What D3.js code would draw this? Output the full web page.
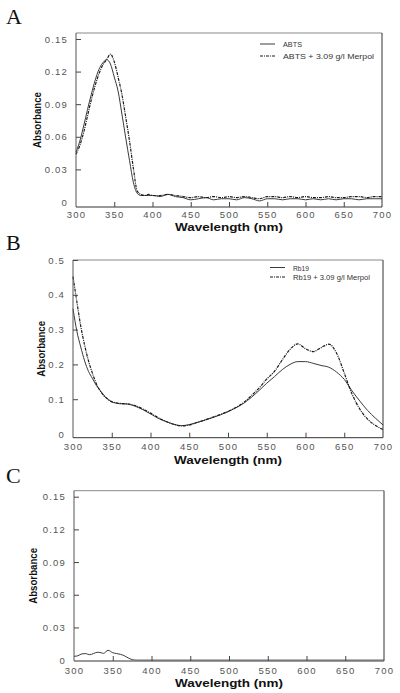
<!DOCTYPE html>
<html>
<head>
<meta charset="utf-8">
<script src="https://cdn.jsdelivr.net/npm/d3@7"></script>
<style>
  html, body { margin: 0; padding: 0; background: #fff; }
  svg { display: block; }
  .tick-label { font-family: "Liberation Sans", Arial, sans-serif; font-size: 9.5px; fill: #555; letter-spacing: 1.2px; }
  .axis-title { font-family: "Liberation Sans", Arial, sans-serif; font-weight: bold; fill: #111; }
  .legend-text { font-family: "Liberation Sans", Arial, sans-serif; fill: #333; }
  .panel-label { font-family: "Liberation Serif", "Times New Roman", serif; font-size: 22px; fill: #111; }
</style>
</head>
<body>
<svg id="chart" width="400" height="693"></svg>
<script>
// ---------- DATA ----------
const xTicks = [300, 350, 400, 450, 500, 550, 600, 650, 700];

// Panel A: ABTS
const wavelengthsA = [300,305,310,315,320,325,330,335,340,345,350,355,360,365,370,375,380,385,390,395,400,
  410,420,430,440,450,460,470,480,490,500,510,520,530,540,550,560,570,580,590,600,610,620,630,640,650,660,670,680,690,700];
const abtsA = [0.046,0.056,0.070,0.085,0.099,0.112,0.122,0.128,0.131,0.127,0.115,0.102,0.081,0.059,0.038,0.018,0.008,0.006,0.006,0.006,0.006,
  0.005,0.007,0.005,0.004,0.002,0.003,0.004,0.002,0.003,0.003,0.002,0.004,0.003,0.001,0.003,0.003,0.002,0.003,0.003,0.002,0.003,0.002,0.003,0.002,0.003,0.003,0.002,0.003,0.003,0.003];
const abtsMerpolA = [0.044,0.052,0.064,0.079,0.094,0.107,0.118,0.126,0.131,0.136,0.129,0.115,0.099,0.078,0.056,0.031,0.010,0.007,0.006,0.007,0.006,
  0.006,0.007,0.006,0.005,0.004,0.005,0.004,0.005,0.004,0.005,0.004,0.005,0.004,0.003,0.005,0.005,0.004,0.005,0.004,0.005,0.004,0.004,0.005,0.004,0.004,0.005,0.005,0.004,0.005,0.005];
const yTicksA = [0, 0.03, 0.06, 0.09, 0.12, 0.15];
const yTickLabelsA = ["0", "0.03", "0.06", "0.09", "0.12", "0.15"];
const legendA = ["ABTS", "ABTS + 3.09 g/l Merpol"];

// Panel B: Rb19
const wavelengthsB = [300,305,310,315,320,325,330,335,340,345,350,355,360,370,380,390,400,410,420,430,440,450,460,470,480,490,500,
  510,520,530,540,550,560,570,580,590,600,610,620,630,640,650,660,670,680,690,700];
const rb19B = [0.360,0.295,0.250,0.210,0.180,0.160,0.140,0.125,0.110,0.100,0.092,0.089,0.087,0.086,0.080,0.070,0.058,0.045,0.036,0.028,0.024,0.027,0.033,0.040,0.047,0.055,0.064,
  0.075,0.088,0.105,0.125,0.146,0.165,0.185,0.200,0.208,0.208,0.203,0.197,0.192,0.178,0.157,0.124,0.095,0.068,0.046,0.026];
const rb19MerpolB = [0.452,0.380,0.310,0.255,0.210,0.175,0.145,0.125,0.110,0.100,0.093,0.090,0.088,0.087,0.082,0.072,0.060,0.047,0.036,0.028,0.023,0.026,0.033,0.040,0.048,0.056,0.065,
  0.076,0.090,0.110,0.132,0.158,0.180,0.213,0.243,0.259,0.245,0.237,0.248,0.258,0.233,0.175,0.115,0.072,0.043,0.025,0.013];
const yTicksB = [0, 0.1, 0.2, 0.3, 0.4, 0.5];
const yTickLabelsB = ["0", "0.1", "0.2", "0.3", "0.4", "0.5"];
const legendB = ["Rb19", "Rb19 + 3.09 g/l Merpol"];

// Panel C: Merpol alone
const wavelengthsC = [300,305,310,315,320,325,330,335,338,344,350,355,360,365,370,375,380,400,450,500,550,600,650,700];
const merpolC = [0.0035,0.004,0.0057,0.006,0.005,0.006,0.0072,0.0068,0.0062,0.009,0.0068,0.006,0.0053,0.004,0.002,0.0005,0,0,0,0,0,0,0,0];
const yTicksC = [0, 0.03, 0.06, 0.09, 0.12, 0.15];
const yTickLabelsC = ["0", "0.03", "0.06", "0.09", "0.12", "0.15"];

// ---------- DRAWING ----------
const svg = d3.select("#chart");

function panel(cfg) {
  const g = svg.append("g");
  const x = d3.scaleLinear().domain([300, 700]).range([cfg.left, cfg.right]);
  const y = d3.scaleLinear().domain(cfg.yDomain).range([cfg.bottom, cfg.top]);

  // panel letter
  g.append("text").attr("class", "panel-label").attr("x", 6).attr("y", cfg.letterY).text(cfg.letter);

  // series
  cfg.series.forEach(s => {
    const line = d3.line().x((d, i) => x(s.x[i])).y(d => y(d)).curve(d3.curveMonotoneX);
    g.append("path")
      .attr("d", line(s.y))
      .attr("fill", "none")
      .attr("stroke", s.color)
      .attr("stroke-width", s.width)
      .attr("stroke-dasharray", s.dash || null);
  });

  // frame
  g.append("line").attr("x1", cfg.left).attr("x2", cfg.right).attr("y1", cfg.top).attr("y2", cfg.top)
    .attr("stroke", "#888").attr("stroke-width", 1);
  g.append("line").attr("x1", cfg.right).attr("x2", cfg.right).attr("y1", cfg.top).attr("y2", cfg.bottom)
    .attr("stroke", "#333").attr("stroke-width", 1);
  g.append("line").attr("x1", cfg.left).attr("x2", cfg.left).attr("y1", cfg.top).attr("y2", cfg.bottom)
    .attr("stroke", "#555").attr("stroke-width", 1);
  g.append("line").attr("x1", cfg.left).attr("x2", cfg.right).attr("y1", cfg.bottom).attr("y2", cfg.bottom)
    .attr("stroke", cfg.bottomColor || "#333").attr("stroke-width", cfg.bottomWidth || 1);

  // axes via d3
  const xAxis = d3.axisBottom(x).tickValues(xTicks).tickSizeInner(-5).tickSizeOuter(0).tickPadding(7);
  const xg = g.append("g").attr("transform", `translate(0,${cfg.bottom})`).call(xAxis);
  xg.select(".domain").remove();
  xg.selectAll(".tick line").attr("stroke", "#444")
    .filter(d => d === 300 || d === 700).remove();
  xg.selectAll(".tick text").attr("class", "tick-label").attr("font-family", null).attr("font-size", null)
    .attr("fill", null).attr("dy", null).attr("y", cfg.xLabelOffset);

  const yAxis = d3.axisLeft(y).tickValues(cfg.yTicks).tickFormat((d, i) => cfg.yTickLabels[i])
    .tickSizeInner(-5).tickSizeOuter(0).tickPadding(8);
  const yg = g.append("g").attr("transform", `translate(${cfg.left},0)`).call(yAxis);
  yg.select(".domain").remove();
  yg.selectAll(".tick line").attr("stroke", "#444").filter(d => d === 0).remove();
  yg.selectAll(".tick text").attr("class", "tick-label").attr("font-family", null).attr("font-size", null)
    .attr("fill", null).attr("letter-spacing", "0.8px");

  // axis titles
  g.append("text").attr("class", "axis-title")
    .attr("x", (cfg.left + cfg.right) / 2).attr("y", cfg.xTitleY)
    .attr("text-anchor", "middle").attr("font-size", "10.5px")
    .attr("textLength", 108).attr("lengthAdjust", "spacingAndGlyphs")
    .text("Wavelength (nm)");
  g.append("text").attr("class", "axis-title")
    .attr("transform", `translate(${cfg.yTitleX},${(cfg.top + cfg.bottom) / 2}) rotate(-90)`)
    .attr("text-anchor", "middle").attr("font-size", "11px")
    .attr("textLength", 56).attr("lengthAdjust", "spacingAndGlyphs")
    .text("Absorbance");

  // legend
  if (cfg.legend) {
    const L = cfg.legend;
    L.items.forEach((name, i) => {
      const s = cfg.series[i];
      const ly = L.y + i * L.gap;
      g.append("line").attr("x1", L.x).attr("x2", L.x + L.lineLen).attr("y1", ly).attr("y2", ly)
        .attr("stroke", s.color).attr("stroke-width", s.width).attr("stroke-dasharray", s.dash || null);
      g.append("text").attr("class", "legend-text")
        .attr("x", L.textX).attr("y", ly + 3).attr("font-size", L.fontSize)
        .attr("textLength", L.textLens[i]).attr("lengthAdjust", "spacingAndGlyphs")
        .text(name);
    });
  }
}

const solidColor = "#3a3a3a";
const dashColor = "#1a1a1a";
const dashPattern = "3,1,1,1";

panel({
  letter: "A", letterY: 24,
  left: 76, right: 382, top: 33, bottom: 207,
  yDomain: [-0.0046, 0.1555], yTicks: yTicksA, yTickLabels: yTickLabelsA,
  xLabelOffset: 11, xTitleY: 230.5, yTitleX: 41,
  series: [
    { x: wavelengthsA, y: abtsA, color: solidColor, width: 1 },
    { x: wavelengthsA, y: abtsMerpolA, color: dashColor, width: 1.2, dash: dashPattern }
  ],
  legend: { items: legendA, x: 260, lineLen: 15, textX: 283, y: 44, gap: 12, fontSize: "8px", textLens: [19, 91] }
});

panel({
  letter: "B", letterY: 250,
  left: 73, right: 383, top: 260, bottom: 437.7,
  yDomain: [-0.0106, 0.5], yTicks: yTicksB, yTickLabels: yTickLabelsB,
  xLabelOffset: 12.8, xTitleY: 463.8, yTitleX: 45,
  series: [
    { x: wavelengthsB, y: rb19B, color: solidColor, width: 1 },
    { x: wavelengthsB, y: rb19MerpolB, color: dashColor, width: 1.2, dash: dashPattern }
  ],
  legend: { items: legendB, x: 270, lineLen: 15, textX: 293, y: 267.5, gap: 9.5, fontSize: "7px", textLens: [16, 77] }
});

panel({
  letter: "C", letterY: 483,
  left: 74, right: 384, top: 490.7, bottom: 661,
  yDomain: [-0.0008, 0.1555], yTicks: yTicksC, yTickLabels: yTickLabelsC,
  xLabelOffset: 13, xTitleY: 686.8, yTitleX: 37,
  bottomColor: "#777", bottomWidth: 1.6,
  series: [
    { x: wavelengthsC, y: merpolC, color: solidColor, width: 1 }
  ]
});
</script>
</body>
</html>
